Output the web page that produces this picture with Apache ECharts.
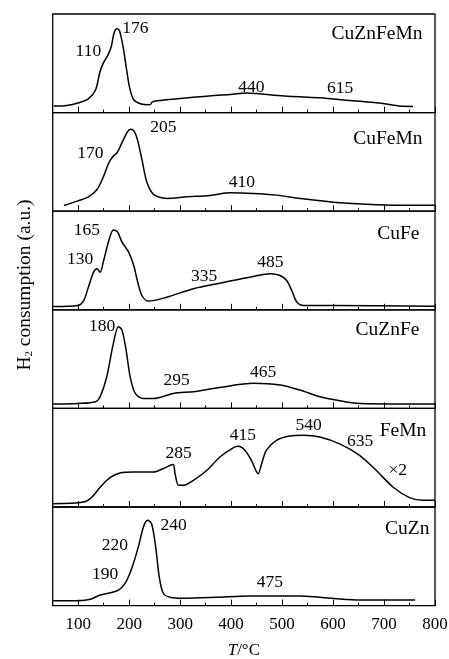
<!DOCTYPE html>
<html>
<head>
<meta charset="utf-8">
<script src="https://cdn.jsdelivr.net/npm/echarts@6/dist/echarts.min.js"></script>
<style>
html,body{margin:0;padding:0;background:#fff;}
#chart{width:449px;height:659px;}
</style>
</head>
<body>
<div id="chart"></div>
<script>
// ---------- data ----------
const panelNames = ['CuZnFeMn', 'CuFeMn', 'CuFe', 'CuZnFe', 'FeMn', 'CuZn'];
const tickMajor = [100, 200, 300, 400, 500, 600, 700, 800];
const tickMinor = [150, 250, 350, 450, 550, 650, 750];

// [T (°C), H2 consumption (a.u., 0-100 of panel)]
const cuZnFeMn = [[52,6.7],[78,7.3],[101,10],[120,14],[134,23],[143,42],[150,51],[158,58],[165,67],[170,80],[176,85],[181,83],[188,67],[194,47],[201,25],[209,13],[222,9],[238,8],[242,8.3],[245,10.7],[255,12],[300,14.3],[352,16.7],[398,18.3],[431,20],[450,19.3],[483,17.7],[535,16],[574,15],[633,12.3],[698,9.3],[731,6.7],[757,6.3]];
const cuFeMn = [[72,5.8],[98,10.2],[120,14.6],[137,22],[150,35.6],[160,49],[169,56],[176,59],[186,69.5],[196,80],[203,83],[210,81],[216,73],[225,52.5],[235,29],[248,17],[274,13],[313,14.6],[359,16],[398,18.6],[444,18],[489,16.3],[535,13],[600,9.2],[666,7.1],[731,6.1],[800,6.1]];
const cuFe = [[51,3.4],[100,4.4],[111,9.5],[120,23],[130,38],[137,41.6],[143,38],[150,50],[160,70],[169,81],[177,79],[186,68.6],[199,58.5],[209,45],[216,29.7],[225,14.5],[238,8.8],[274,12.8],[326,21.3],[378,27],[431,32.5],[477,36.5],[496,34.8],[509,29.7],[519,19.6],[529,7.8],[542,4.4],[600,4.4],[800,3.7]];
const cuZnFe = [[51,4.4],[100,5],[134,6.8],[143,11.8],[156,32],[169,66],[179,82.8],[186,79.4],[194,59],[202,32],[212,15.2],[228,10],[248,10],[287,15.2],[326,17],[378,21.3],[444,25.4],[496,23.7],[535,18.6],[574,11.8],[600,9.1],[653,5],[800,4.4]];
const feMn = [[51,3.4],[111,5],[127,10],[143,20],[163,30],[182,34.5],[208,35.5],[248,35.5],[267,39],[286,43],[290,33.8],[297,22],[307,22],[326,27],[352,37],[378,50.7],[404,60],[414,61.5],[427,57.5],[440,47],[450,35.5],[453,33.8],[460,44],[469,57.5],[489,67.6],[515,72],[541,72.7],[574,71],[613,64],[652,52.4],[685,37],[718,20],[750,9.5],[776,6.8],[800,6.8]];
const cuZn = [[51,5],[100,5],[124,6.4],[143,10.8],[163,13],[179,15.8],[192,22.6],[205,37.7],[218,59.6],[228,79.8],[236,86.5],[244,83],[252,59.6],[259,29.3],[267,12.5],[280,8.4],[306,7.4],[372,8.4],[437,9.8],[535,9.8],[574,8.4],[646,5.7],[761,5.7]];

// peak annotations: [T, value, text]
const notes1 = [[120,62,'110'],[212,85,'176'],[440,26,'440'],[614,25,'615']];
const notes2 = [[124,59,'170'],[267,85,'205'],[421,29.5,'410']];
const notes3 = [[117,80.5,'165'],[104,50.7,'130'],[347,33.8,'335'],[477,48.3,'485']];
const notes4 = [[147,82.8,'180'],[293,28.7,'295'],[463,37,'465']];
const notes5 = [[297,54,'285'],[423,72.7,'415'],[552,82.9,'540'],[653,67,'635'],[727,37,'×2']];
const notes6 = [[287,81.5,'240'],[172,61,'220'],[153,32,'190'],[476,23.2,'475']];
// panel name anchor (right edge): [T, value]
const nameAnchors = [[776.5,80],[776.5,73],[770.6,77],[770.6,79.4],[784,76.8],[790,78]];

const curves = [cuZnFeMn, cuFeMn, cuFe, cuZnFe, feMn, cuZn];
const notes = [notes1, notes2, notes3, notes4, notes5, notes6];

// ---------- chart ----------
const FONT = '"Liberation Serif", "Times New Roman", serif';
const TOP = 14, H = 98.6, LEFT = 52.7, RIGHT = 14;
const grids = [], xAxes = [], yAxes = [], series = [];

for (let i = 0; i < 6; i++) {
  grids.push({left: LEFT, right: RIGHT, top: TOP + i * H, height: H, show: true,
    borderColor: '#000', borderWidth: 1.3, backgroundColor: 'transparent',
    containLabel: false, outerBoundsMode: 'none'});
  const last = i === 5;
  xAxes.push({
    gridIndex: i, type: 'value', min: 50, max: 800, position: 'bottom',
    axisLine: {show: false}, splitLine: {show: false},
    axisTick: {show: true, inside: true, length: 6, customValues: tickMajor, lineStyle: {color: '#000', width: 1}},
    axisLabel: last ? {show: true, customValues: tickMajor, color: '#000', fontSize: 17, fontFamily: FONT, margin: 10} : {show: false},
    name: last ? '{i|T}/°C' : '',
    nameLocation: 'middle', nameGap: 36,
    nameTextStyle: {color: '#000', fontSize: 17, fontFamily: FONT,
      rich: {i: {fontStyle: 'italic', fontSize: 17, fontFamily: FONT, color: '#000'}}}
  });
  xAxes.push({
    gridIndex: i, type: 'value', min: 50, max: 800, position: 'bottom',
    axisLine: {show: false}, splitLine: {show: false},
    axisTick: {show: true, inside: true, length: 3, customValues: tickMinor, lineStyle: {color: '#000', width: 1}},
    axisLabel: {show: false}
  });
  yAxes.push({gridIndex: i, type: 'value', min: 0, max: 100, show: false});

  series.push({
    type: 'line', xAxisIndex: 2 * i, yAxisIndex: i, data: curves[i],
    showSymbol: false, smooth: 0.3, silent: true,
    lineStyle: {color: '#000', width: 1.5}
  });
  series.push({
    type: 'scatter', xAxisIndex: 2 * i, yAxisIndex: i, data: notes[i],
    symbolSize: 1, itemStyle: {color: 'rgba(0,0,0,0)'}, silent: true,
    label: {show: true, position: 'inside', formatter: p => p.value[2],
      color: '#000', opacity: 1, fontSize: 17.5, fontFamily: FONT}
  });
  series.push({
    type: 'scatter', xAxisIndex: 2 * i, yAxisIndex: i, data: [nameAnchors[i]],
    symbolSize: 1, itemStyle: {color: 'rgba(0,0,0,0)'}, silent: true,
    label: {show: true, position: 'left', distance: 0, formatter: () => panelNames[i],
      color: '#000', opacity: 1, fontSize: 19.5, fontFamily: FONT}
  });
}

const chart = echarts.init(document.getElementById('chart'), null, {renderer: 'canvas'});
chart.setOption({
  animation: false,
  backgroundColor: '#fff',
  grid: grids, xAxis: xAxes, yAxis: yAxes, series: series,
  graphic: [{
    type: 'text', x: 25, y: 285, rotation: Math.PI / 2, silent: true,
    style: {
      text: 'H{s|2} consumption (a.u.)',
      align: 'center', verticalAlign: 'middle',
      font: '19.5px ' + FONT, fill: '#000',
      rich: {s: {fontSize: 11, fontFamily: FONT, fill: '#000', padding: [9, 0, 0, 0]}}
    }
  }]
});
</script>
</body>
</html>
